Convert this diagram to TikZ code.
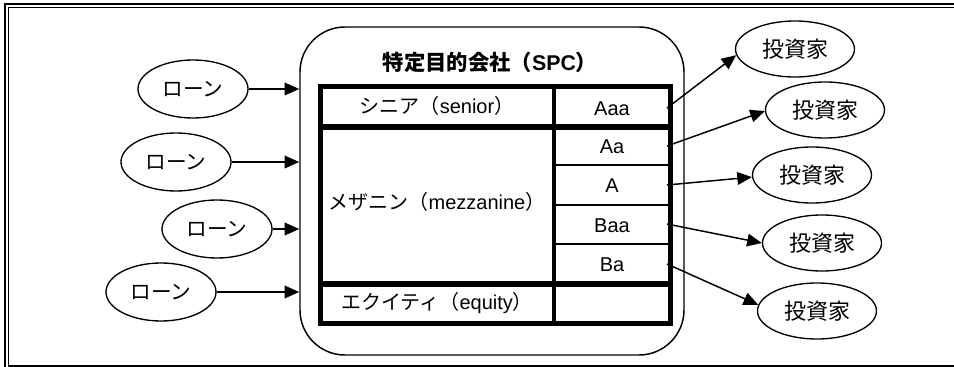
\documentclass[tikz,border=0pt]{standalone}
\usepackage{fontspec}
\setmainfont{Liberation Sans}
\newfontfamily\jp{Noto Sans CJK JP}
\usetikzlibrary{arrows.meta,shapes.geometric}
\tikzset{
  loan/.style={draw, ellipse, line width=1pt, minimum width=82.5pt, minimum height=43.5pt, inner sep=0pt, font=\jp\fontsize{15.5pt}{18pt}\selectfont},
  inv/.style={draw, ellipse, line width=1pt, minimum width=89.25pt, minimum height=42pt, inner sep=0pt, font=\jp\fontsize{16.5pt}{19pt}\selectfont},
  conn/.style={line width=1.1pt, -{Triangle[length=11pt,width=9.5pt]}},
  lbl/.style={inner sep=0pt, font=\fontsize{15pt}{18pt}\selectfont},
  thickrule/.style={line width=3.9pt},
  thinrule/.style={line width=1.8pt},
}
\begin{document}
\begin{tikzpicture}[x=0.75pt,y=-0.75pt]
\useasboundingbox (0,0) rectangle (954,367);
% frame
\draw[line width=1.5pt] (4.5,367) -- (4.5,4) -- (954,4);
\draw[line width=0.75pt] (8.5,365) -- (8.5,7.5) -- (954,7.5);
\draw[line width=1.5pt] (8,365.5) -- (954,365.5);
% SPC
\node[draw, line width=1.1pt, rounded corners=33.75pt, minimum width=288pt, minimum height=246pt, inner sep=0pt] (spc) at (492,191) {};
\node[lbl, font=\bfseries\fontsize{16pt}{19pt}\selectfont] (title) at (490,62) {{\jp 特定目的会社（}SPC{\jp ）}};
% table
\draw[line width=3.75pt] (320,87) rectangle (670,323);
\draw[line width=2.5pt] (554,87) -- (554,323);
\draw[thickrule] (320,127) -- (670,127);
\draw[thickrule] (320,284) -- (670,284);
\draw[thinrule] (554,165) -- (670,165) (554,205) -- (670,205) (554,244) -- (670,244);
\node[lbl] (senior) at (437,106) {{\jp シニア（}senior{\jp ）}};
\node[lbl] (mezz) at (437,202) {{\jp メザニン（}mezzanine{\jp ）}};
\node[lbl] (equity) at (437,303) {{\jp エクイティ（}equity{\jp ）}};
\node[lbl] (taaa) at (612,109) {Aaa};
\node[lbl] (taa) at (612,147) {Aa};
\node[lbl] (ta) at (612,186) {A};
\node[lbl] (tbaa) at (612,226) {Baa};
\node[lbl] (tba) at (612,265) {Ba};
\coordinate (sAaa) at (667,108);
\coordinate (sAa) at (667,146);
\coordinate (sA) at (667,185);
\coordinate (sBaa) at (667,224);
\coordinate (sBa) at (667,264);
% loans
\node[loan] (l1) at (193,89) {ローン};
\node[loan] (l2) at (176,162) {ローン};
\node[loan] (l3) at (217,229) {ローン};
\node[loan] (l4) at (161,292) {ローン};
\foreach \n in {l1,l2,l3,l4} \draw[conn] (\n.east) -- (\n.east -| spc.west);
% investors
\node[inv] (i1) at (795,49) {投資家};
\node[inv] (i2) at (825,110) {投資家};
\node[inv] (i3) at (812,175) {投資家};
\node[inv] (i4) at (822,243) {投資家};
\node[inv] (i5) at (817,311) {投資家};
\draw[conn] (sAaa) -- (i1.186);
\draw[conn] (sAa) -- (i2.181);
\draw[conn] (sA) -- (i3.182);
\draw[conn] (sBaa) -- (i4.180);
\draw[conn] (sBa) -- (i5.174);
\end{tikzpicture}
\end{document}
